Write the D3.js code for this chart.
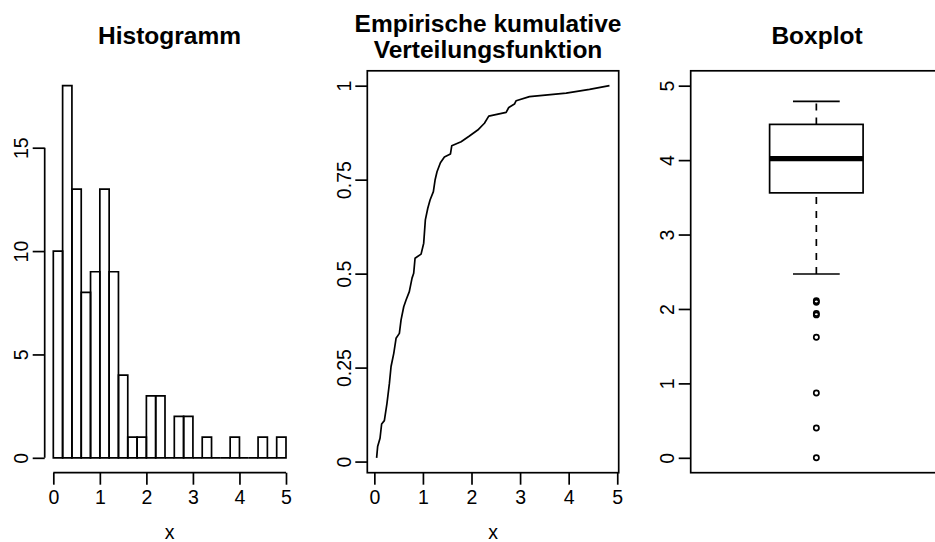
<!DOCTYPE html>
<html>
<head>
<meta charset="utf-8">
<script src="https://cdn.jsdelivr.net/npm/d3@7"></script>
<style>
  body { margin: 0; background: #fff; }
  svg { display: block; font-family: "Liberation Sans", Arial, sans-serif; }
</style>
</head>
<body>
<script>
// Daten
const histBreaks = [0, 0.2, 0.4, 0.6, 0.8, 1.0, 1.2, 1.4, 1.6, 1.8, 2.0, 2.2, 2.4,
                    2.6, 2.8, 3.0, 3.2, 3.4, 3.6, 3.8, 4.0, 4.2, 4.4, 4.6, 4.8, 5.0];
const histCounts = [10, 18, 13, 8, 9, 13, 9, 4, 1, 1, 3, 3, 0,
                    2, 2, 0, 1, 0, 0, 1, 0, 0, 1, 0, 1];

const ecdfX = [0.047, 0.068, 0.117, 0.15, 0.206, 0.26, 0.31, 0.344, 0.40, 0.447, 0.515,
               0.55, 0.605, 0.653, 0.72, 0.776, 0.81, 0.838, 0.962, 1.016, 1.05, 1.10,
               1.147, 1.215, 1.25, 1.29, 1.36, 1.442, 1.566, 1.593, 1.786, 1.957, 2.128,
               2.266, 2.355, 2.713, 2.767, 2.884, 2.919, 3.193, 3.949, 4.43, 4.84];
const ecdfF = [0.01, 0.04, 0.062, 0.10, 0.109, 0.155, 0.208, 0.253, 0.288, 0.328, 0.341,
               0.377, 0.412, 0.43, 0.452, 0.488, 0.501, 0.541, 0.552, 0.581, 0.643, 0.674,
               0.696, 0.718, 0.749, 0.771, 0.795, 0.81, 0.818, 0.84, 0.851, 0.866, 0.882,
               0.90, 0.919, 0.929, 0.942, 0.951, 0.96, 0.971, 0.98, 0.99, 1.0];

// Boxplot: unterer Whisker, Q1, Median, Q3, oberer Whisker
const boxValues = [2.47, 3.56, 4.02, 4.48, 4.79];
const outliers = [2.11, 2.09, 1.94, 1.92, 1.62, 0.87, 0.40, 0.00];

const xTicks = [0, 1, 2, 3, 4, 5];
const xLabels = ['0', '1', '2', '3', '4', '5'];
const histYTicks = [0, 5, 10, 15];
const ecdfYTicks = [0, 0.25, 0.5, 0.75, 1];
const ecdfYLabels = ['0', '0.25', '0.5', '0.75', '1'];
const boxYTicks = [0, 1, 2, 3, 4, 5];

const titles = [['Histogramm'], ['Empirische kumulative', 'Verteilungsfunktion'], ['Boxplot']];

// Layout
const width = 935, height = 542;
const plotTop = 70.8, plotBottom = 472.7;
const panels = [
  { left: 44, right: 295.3, titleX: 169.5 },
  { left: 367.3, right: 618.7, titleX: 488 },
  { left: 690.7, right: 942, titleX: 817 }
];
const lw = 1.7;
const tickLen = 12;
const tickFont = '19.5px';
const titleFont = '24.5px';

const svg = d3.select('body').append('svg')
  .attr('width', width)
  .attr('height', height);

// Titel
titles.forEach((lines, i) => {
  const t = svg.append('text')
    .attr('text-anchor', 'middle')
    .attr('font-weight', 'bold')
    .attr('font-size', titleFont);
  const ys = lines.length === 1 ? [44.3] : [31.7, 58.3];
  lines.forEach((l, j) => t.append('tspan').attr('x', panels[i].titleX).attr('y', ys[j]).text(l));
});

// y-Achse mit gedrehten Beschriftungen
function yAxis(x0, scale, ticks, labels) {
  const g = svg.append('g').attr('transform', `translate(${x0},0)`)
    .call(d3.axisLeft(scale).tickValues(ticks).tickSize(tickLen).tickSizeOuter(0)
      .tickFormat((d, i) => labels ? labels[i] : String(d)));
  g.select('.domain').remove();
  g.selectAll('line').attr('stroke', '#000').attr('stroke-width', lw);
  g.selectAll('text')
    .attr('transform', 'rotate(-90)')
    .attr('x', 0).attr('y', -16.5).attr('dy', null)
    .attr('text-anchor', 'middle')
    .attr('font-size', tickFont).attr('fill', '#000');
  return g;
}

function xAxis(scale, ticks, labels) {
  const g = svg.append('g').attr('transform', `translate(0,${plotBottom})`)
    .call(d3.axisBottom(scale).tickValues(ticks).tickSize(tickLen).tickSizeOuter(0)
      .tickFormat((d, i) => labels[i]));
  g.select('.domain').remove();
  g.selectAll('line').attr('stroke', '#000').attr('stroke-width', lw);
  g.selectAll('text').attr('y', 31).attr('dy', null)
    .attr('font-size', tickFont).attr('fill', '#000');
  return g;
}

function xLabel(p) {
  svg.append('text')
    .attr('x', (p.left + p.right) / 2).attr('y', 539)
    .attr('text-anchor', 'middle').attr('font-size', tickFont)
    .text('x');
}

// 1) Histogramm
const p1 = panels[0];
const hx = d3.scaleLinear().domain([-0.2, 5.2]).range([p1.left, p1.right]);
const hy = d3.scaleLinear().domain([-0.72, 18.72]).range([plotBottom, plotTop]);

svg.append('g').selectAll('path')
  .data(histCounts)
  .join('path')
  .attr('d', (d, i) => {
    const x0 = hx(histBreaks[i]), x1 = hx(histBreaks[i + 1]);
    return `M${x0},${hy(0)}V${hy(d)}H${x1}V${hy(0)}Z`;
  })
  .attr('fill', 'none').attr('stroke', '#000').attr('stroke-width', lw);

yAxis(p1.left + 0.7, hy, histYTicks);
svg.append('line')
  .attr('x1', p1.left + 0.7).attr('x2', p1.left + 0.7)
  .attr('y1', hy(0)).attr('y2', hy(15))
  .attr('stroke', '#000').attr('stroke-width', lw);
xAxis(hx, xTicks, xLabels);
svg.append('line')
  .attr('x1', hx(0)).attr('x2', hx(5))
  .attr('y1', plotBottom).attr('y2', plotBottom)
  .attr('stroke', '#000').attr('stroke-width', lw);
xLabel(p1);

// 2) Empirische Verteilungsfunktion
const p2 = panels[1];
const ex = d3.scaleLinear().domain([-0.145, 5.03]).range([p2.left, p2.right]);
const ey = d3.scaleLinear().domain([-0.0296, 1.0396]).range([plotBottom, plotTop]);

svg.append('path')
  .datum(d3.zip(ecdfX, ecdfF))
  .attr('d', d3.line().x(d => ex(d[0])).y(d => ey(d[1])))
  .attr('fill', 'none').attr('stroke', '#000').attr('stroke-width', lw)
  .attr('stroke-linejoin', 'round');

svg.append('rect')
  .attr('x', p2.left).attr('y', plotTop)
  .attr('width', p2.right - p2.left).attr('height', plotBottom - plotTop)
  .attr('fill', 'none').attr('stroke', '#000').attr('stroke-width', lw);
yAxis(p2.left, ey, ecdfYTicks, ecdfYLabels);
xAxis(ex, xTicks, xLabels);
xLabel(p2);

// 3) Boxplot
const p3 = panels[2];
const bx = d3.scaleLinear().domain([0.5, 1.5]).range([p3.left, p3.right]);
const by = d3.scaleLinear().domain([-0.2, 5.2]).range([plotBottom, plotTop]);
const boxHalf = 0.186, stapleHalf = 0.093;
const [lo, q1, med, q3, hi] = boxValues;

const bg = svg.append('g').attr('stroke', '#000').attr('fill', 'none');
bg.selectAll('line.whisker')
  .data([[lo, q1], [q3, hi]])
  .join('line')
  .attr('x1', bx(1)).attr('x2', bx(1))
  .attr('y1', d => by(d[0])).attr('y2', d => by(d[1]))
  .attr('stroke-width', lw).attr('stroke-dasharray', '7,7');
bg.selectAll('line.staple')
  .data([lo, hi])
  .join('line')
  .attr('x1', bx(1 - stapleHalf)).attr('x2', bx(1 + stapleHalf))
  .attr('y1', d => by(d)).attr('y2', d => by(d))
  .attr('stroke-width', lw);
bg.append('rect')
  .attr('x', bx(1 - boxHalf)).attr('y', by(q3))
  .attr('width', bx(1 + boxHalf) - bx(1 - boxHalf)).attr('height', by(q1) - by(q3))
  .attr('fill', '#fff').attr('stroke-width', lw);
bg.append('line')
  .attr('x1', bx(1 - boxHalf)).attr('x2', bx(1 + boxHalf))
  .attr('y1', by(med)).attr('y2', by(med))
  .attr('stroke-width', lw * 3);
bg.selectAll('circle')
  .data(outliers)
  .join('circle')
  .attr('cx', bx(1)).attr('cy', d => by(d)).attr('r', 2.6)
  .attr('stroke-width', lw);

svg.append('rect')
  .attr('x', p3.left).attr('y', plotTop)
  .attr('width', p3.right - p3.left).attr('height', plotBottom - plotTop)
  .attr('fill', 'none').attr('stroke', '#000').attr('stroke-width', lw);
yAxis(p3.left, by, boxYTicks);
</script>
</body>
</html>
